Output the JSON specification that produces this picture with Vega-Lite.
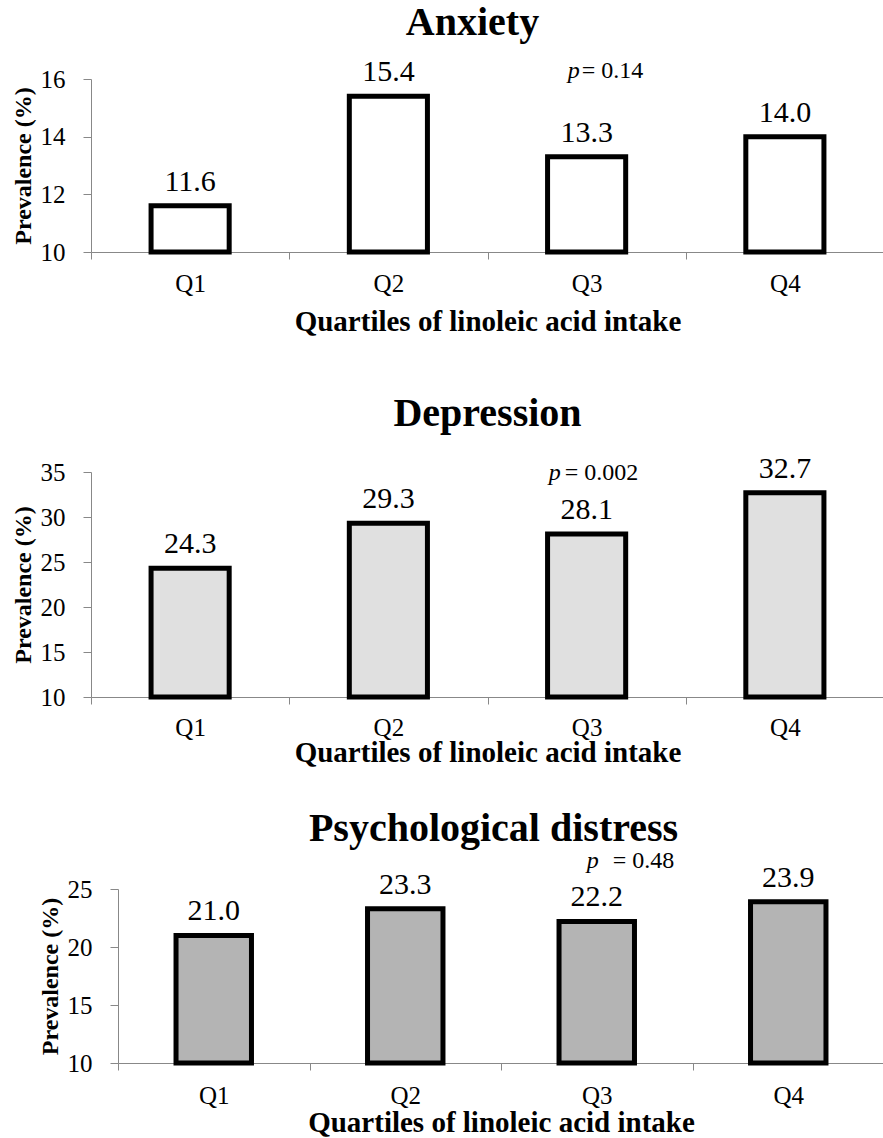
{
  "$schema": "https://vega.github.io/schema/vega-lite/v6.json",
  "background": "white",
  "padding": {"left": 11, "top": 3, "right": 0, "bottom": 0},
  "spacing": 57,
  "config": {
    "font": "Liberation Serif, Times New Roman, Times, serif",
    "view": {"stroke": null},
    "text": {"font": "Liberation Serif, Times New Roman, Times, serif"},
    "axis": {
      "domainColor": "#888888",
      "tickColor": "#888888",
      "grid": false,
      "labelColor": "black",
      "titleColor": "black",
      "labelFont": "Liberation Serif, Times New Roman, Times, serif",
      "titleFont": "Liberation Serif, Times New Roman, Times, serif",
      "labelFontSize": 25,
      "titleFontWeight": "bold"
    },
    "title": {"font": "Liberation Serif, Times New Roman, Times, serif", "fontSize": 40, "fontWeight": "bold", "color": "black", "frame": "group"}
  },
  "vconcat": [
    {
      "width": 793,
      "height": 173,
      "title": {"text": "Anxiety", "dx": -15, "offset": 14},
      "data": {"values": [
        {"quartile": "Q1", "prevalence": 11.6},
        {"quartile": "Q2", "prevalence": 15.4},
        {"quartile": "Q3", "prevalence": 13.3},
        {"quartile": "Q4", "prevalence": 14.0}
      ]},
      "layer": [
        {
          "mark": {"type": "bar", "fill": "white", "stroke": "black", "strokeWidth": 5, "width": {"band": 0.394}},
          "encoding": {
            "x": {"field": "quartile", "type": "nominal", "sort": null,
              "scale": {"paddingInner": 0, "paddingOuter": 0},
              "axis": {"title": "Quartiles of linoleic acid intake", "labelAngle": 0, "tickBand": "extent", "tickSize": 7, "labelPadding": 12, "titleFontSize": 29, "titlePadding": 11}},
            "y": {"field": "prevalence", "type": "quantitative",
              "scale": {"domain": [10, 16], "zero": false, "nice": false},
              "axis": {"title": "Prevalence (%)", "values": [10, 12, 14, 16], "tickSize": 8, "titleFontSize": 24, "labelPadding": 18, "titlePadding": 5}},
            "y2": {"datum": 10}
          }
        },
        {
          "mark": {"type": "text", "fontSize": 30, "dy": -15, "baseline": "alphabetic"},
          "encoding": {
            "x": {"field": "quartile", "type": "nominal", "sort": null},
            "y": {"field": "prevalence", "type": "quantitative"},
            "text": {"field": "prevalence", "format": ".1f"}
          }
        },
        {
          "data": {"values": [{"symbol": "p", "result": "= 0.14"}]},
          "layer": [
            {
              "mark": {"type": "text", "fontSize": 24, "fontStyle": "italic", "align": "right", "baseline": "alphabetic", "dx": -7},
              "encoding": {"x": {"datum": "Q3", "type": "nominal"}, "y": {"datum": 16.03, "type": "quantitative"}, "text": {"field": "symbol"}}
            },
            {
              "mark": {"type": "text", "fontSize": 24, "align": "left", "baseline": "alphabetic", "dx": -5},
              "encoding": {"x": {"datum": "Q3", "type": "nominal"}, "y": {"datum": 16.03, "type": "quantitative"}, "text": {"field": "result"}}
            }
          ]
        }
      ]
    },
    {
      "spacing": 42,
      "vconcat": [
        {
          "width": 793,
          "height": 225,
          "title": {"text": "Depression", "dx": 0, "offset": 20},
          "data": {"values": [
            {"quartile": "Q1", "prevalence": 24.3},
            {"quartile": "Q2", "prevalence": 29.3},
            {"quartile": "Q3", "prevalence": 28.1},
            {"quartile": "Q4", "prevalence": 32.7}
          ]},
          "layer": [
            {
              "mark": {"type": "bar", "fill": "#e0e0e0", "stroke": "black", "strokeWidth": 5, "width": {"band": 0.394}},
              "encoding": {
                "x": {"field": "quartile", "type": "nominal", "sort": null,
                  "scale": {"paddingInner": 0, "paddingOuter": 0},
                  "axis": {"title": "Quartiles of linoleic acid intake", "labelAngle": 0, "tickBand": "extent", "tickSize": 7, "labelPadding": 11, "titleFontSize": 29, "titlePadding": -2}},
                "y": {"field": "prevalence", "type": "quantitative",
                  "scale": {"domain": [10, 35], "zero": false, "nice": false},
                  "axis": {"title": "Prevalence (%)", "values": [10, 15, 20, 25, 30, 35], "tickSize": 8, "titleFontSize": 24, "labelPadding": 18, "titlePadding": 5}},
                "y2": {"datum": 10}
              }
            },
            {
              "mark": {"type": "text", "fontSize": 30, "dy": -15, "baseline": "alphabetic"},
              "encoding": {
                "x": {"field": "quartile", "type": "nominal", "sort": null},
                "y": {"field": "prevalence", "type": "quantitative"},
                "text": {"field": "prevalence", "format": ".1f"}
              }
            },
            {
              "data": {"values": [{"symbol": "p", "result": "= 0.002"}]},
              "layer": [
                {
                  "mark": {"type": "text", "fontSize": 24, "fontStyle": "italic", "align": "right", "baseline": "alphabetic", "dx": -26},
                  "encoding": {"x": {"datum": "Q3", "type": "nominal"}, "y": {"datum": 34.1, "type": "quantitative"}, "text": {"field": "symbol"}}
                },
                {
                  "mark": {"type": "text", "fontSize": 24, "align": "left", "baseline": "alphabetic", "dx": -22},
                  "encoding": {"x": {"datum": "Q3", "type": "nominal"}, "y": {"datum": 34.1, "type": "quantitative"}, "text": {"field": "result"}}
                }
              ]
            }
          ]
        },
        {
          "width": 793,
          "height": 174,
          "title": {"text": "Psychological distress", "dx": 6, "offset": 0},
          "data": {"values": [
            {"quartile": "Q1", "prevalence": 21.0},
            {"quartile": "Q2", "prevalence": 23.3},
            {"quartile": "Q3", "prevalence": 22.2},
            {"quartile": "Q4", "prevalence": 23.9}
          ]},
          "layer": [
            {
              "mark": {"type": "bar", "fill": "#b4b4b4", "stroke": "black", "strokeWidth": 5, "width": {"band": 0.394}},
              "encoding": {
                "x": {"field": "quartile", "type": "nominal", "sort": null,
                  "scale": {"paddingInner": 0, "paddingOuter": 0, "range": [27, 793]},
                  "axis": {"title": "Quartiles of linoleic acid intake", "labelAngle": 0, "tickBand": "extent", "tickSize": 7, "labelPadding": 13, "titleFontSize": 29, "titlePadding": 0}},
                "y": {"field": "prevalence", "type": "quantitative",
                  "scale": {"domain": [10, 25], "zero": false, "nice": false},
                  "axis": {"title": "Prevalence (%)", "offset": -27, "values": [10, 15, 20, 25], "tickSize": 8, "titleFontSize": 24, "labelPadding": 18, "titlePadding": 5}},
                "y2": {"datum": 10}
              }
            },
            {
              "mark": {"type": "text", "fontSize": 30, "dy": -15, "baseline": "alphabetic"},
              "encoding": {
                "x": {"field": "quartile", "type": "nominal", "sort": null},
                "y": {"field": "prevalence", "type": "quantitative"},
                "text": {"field": "prevalence", "format": ".1f"}
              }
            },
            {
              "data": {"values": [{"symbol": "p", "result": "= 0.48"}]},
              "layer": [
                {
                  "mark": {"type": "text", "fontSize": 24, "fontStyle": "italic", "align": "right", "baseline": "alphabetic", "dx": 2},
                  "encoding": {"x": {"datum": "Q3", "type": "nominal"}, "y": {"datum": 26.8, "type": "quantitative"}, "text": {"field": "symbol"}}
                },
                {
                  "mark": {"type": "text", "fontSize": 24, "align": "left", "baseline": "alphabetic", "dx": 16},
                  "encoding": {"x": {"datum": "Q3", "type": "nominal"}, "y": {"datum": 26.8, "type": "quantitative"}, "text": {"field": "result"}}
                }
              ]
            }
          ]
        }
      ]
    }
  ]
}
